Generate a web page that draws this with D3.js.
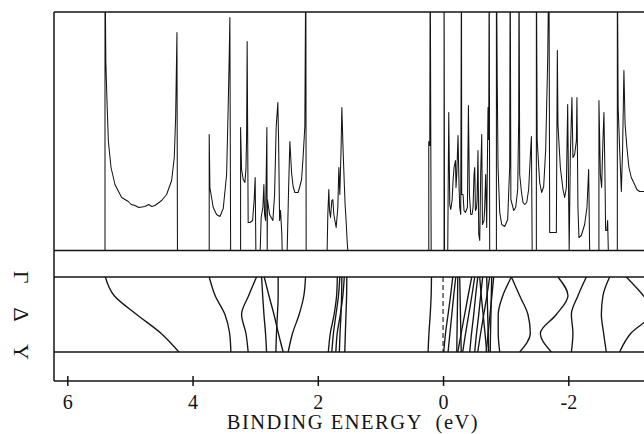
<!DOCTYPE html>
<html>
<head>
<meta charset="utf-8">
<script src="https://cdn.jsdelivr.net/npm/d3@7"></script>
<style>
  html, body { margin: 0; padding: 0; background: #fff; }
  svg { display: block; font-family: "Liberation Serif", "Times New Roman", serif; }
</style>
</head>
<body>
<svg id="chart" width="644" height="434"></svg>
<script>
// ---- Energy axis ----
const energyTicks = [6, 4, 2, 0, -2];
const tickLabels = ["6", "4", "2", "0", "-2"];
const axisTitle = "BINDING ENERGY  (eV)";
const fermiLevel = 0;

// ---- k path (fraction of the way from Γ to Y) ----
const kPoints = [0, 0.25, 0.5, 0.75, 1];
const kLabels = ["Γ", "Δ", "Y"];
const kLabelAt = [0, 0.5, 1];

// ---- Density of states: [binding energy (eV), DOS (arb. units)] ----
const dosDeep = [
  [6.3, 0], [5.398, 0], [5.398, 30], [5.385, 19.0], [5.371, 15.9], [5.345, 11.0], [5.302, 8.3],
  [5.239, 6.6], [5.132, 5.3], [5.026, 4.9], [4.98, 4.6], [4.919, 4.5], [4.86, 4.3], [4.76, 4.4],
  [4.70, 4.6], [4.65, 4.4], [4.6, 4.5], [4.493, 5.0], [4.414, 5.6], [4.334, 7.0], [4.292, 9.3],
  [4.27, 13.3], [4.249, 21.8], [4.241, 0]
];
const dosMid = [
  [3.734, 0], [3.734, 11.6], [3.723, 6.3], [3.67, 4.3], [3.616, 3.6], [3.563, 3.4], [3.51, 4.2],
  [3.456, 7.6], [3.431, 14.3], [3.415, 19.3], [3.404, 23.3], [3.392, 0],
  [3.233, 0], [3.233, 12.3], [3.217, 8.1], [3.191, 7.1], [3.164, 6.8], [3.148, 8.1], [3.137, 11.1],
  [3.128, 20.9], [3.112, 2.8], [3.084, 2.8], [3.041, 3.0], [3.016, 5.1], [3.0, 7.3], [2.989, 0],
  [2.92, 0], [2.904, 3.3], [2.877, 4.3], [2.861, 6.6], [2.85, 3.6], [2.834, 3.0], [2.813, 12.3],
  [2.808, 0], [2.804, 5.1], [2.77, 3.6], [2.717, 3.0], [2.69, 5.6], [2.665, 12.3], [2.638, 14.8],
  [2.626, 11.0], [2.61, 3.0], [2.595, 4.0], [2.574, 1.6], [2.569, 0],
  [2.489, 0], [2.467, 6.0], [2.446, 10.9], [2.419, 7.8], [2.394, 6.4], [2.366, 5.8], [2.314, 5.8],
  [2.287, 6.4], [2.259, 7.1], [2.234, 9.4], [2.207, 12.4], [2.191, 30], [2.186, 0]
];
const dosSemicore = [
  [1.851, 0], [1.84, 3.6], [1.824, 6.1], [1.813, 4.0], [1.797, 3.3], [1.776, 5.0], [1.76, 5.1],
  [1.744, 3.6], [1.707, 2.3], [1.68, 4.3], [1.664, 8.3], [1.648, 5.6], [1.628, 10.3], [1.616, 14.3],
  [1.596, 10.0], [1.573, 6.0], [1.564, 4.6], [1.548, 3.0], [1.532, 1.0], [1.521, 0]
];
const dosFermi = [
  [0.228, 0], [0.228, 10.9], [0.212, 10.5], [0.205, 30], [0.19, 0],
  [-0.016, 0], [-0.016, 30], [-0.024, 0], [-0.075, 0], [-0.08, 4.5], [-0.091, 13.8], [-0.107, 4.6],
  [-0.123, 4.1], [-0.144, 5.0], [-0.16, 7.0], [-0.176, 8.3], [-0.198, 9.0], [-0.207, 6.3],
  [-0.219, 7.6], [-0.239, 11.5], [-0.255, 6.6], [-0.266, 4.3], [-0.282, 3.6], [-0.294, 30],
  [-0.298, 5.6], [-0.319, 5.6], [-0.335, 4.0], [-0.357, 3.8], [-0.389, 4.3], [-0.405, 14.5],
  [-0.421, 5.6], [-0.442, 3.6], [-0.463, 3.6], [-0.479, 4.3], [-0.495, 7.6], [-0.506, 8.3],
  [-0.517, 4.0], [-0.533, 4.2], [-0.543, 5.0], [-0.558, 10.0], [-0.57, 1.6], [-0.586, 1.0],
  [-0.602, 8.0], [-0.618, 11.6], [-0.629, 2.6], [-0.654, 3.0], [-0.665, 4.3], [-0.681, 7.6],
  [-0.697, 2.3], [-0.718, 14.3], [-0.729, 11.1], [-0.737, 30], [-0.745, 0]
];
const dosValence = [
  [-0.852, 0], [-0.852, 30], [-0.865, 17.1], [-0.878, 8.4], [-0.905, 3.8], [-0.937, 2.6],
  [-0.985, 2.4], [-1.032, 3.1], [-1.064, 8.4], [-1.072, 30], [-1.083, 5.1], [-1.104, 4.6],
  [-1.128, 4.0], [-1.16, 4.3], [-1.192, 6.1], [-1.208, 13.1], [-1.213, 30], [-1.224, 7.6],
  [-1.251, 5.9], [-1.277, 4.8], [-1.304, 4.6], [-1.336, 4.8], [-1.367, 6.1], [-1.391, 9.1],
  [-1.411, 11.4], [-1.423, 0], [-1.49, 0], [-1.49, 30], [-1.503, 11.1], [-1.516, 9.6],
  [-1.543, 6.8], [-1.575, 5.8], [-1.607, 6.4], [-1.639, 10.1], [-1.671, 19.1], [-1.691, 30],
  [-1.703, 1.8], [-1.809, 1.8], [-1.825, 20.0], [-1.835, 12.6], [-1.873, 8.3], [-1.915, 6.1],
  [-1.942, 5.3], [-1.969, 6.3], [-1.99, 14.6], [-2.014, 0], [-2.033, 9.6], [-2.058, 15.3],
  [-2.074, 9.3], [-2.101, 9.6], [-2.129, 11.0], [-2.138, 15.3], [-2.154, 4.3], [-2.17, 1.3],
  [-2.208, 1.5], [-2.261, 2.6], [-2.298, 4.3], [-2.325, 8.1], [-2.341, 0], [-2.489, 0],
  [-2.489, 15.0], [-2.512, 7.6], [-2.532, 6.3], [-2.553, 11.0], [-2.569, 13.8], [-2.585, 7.6],
  [-2.596, 2.0], [-2.617, 2.0], [-2.628, 3.0], [-2.639, 0], [-2.783, 0], [-2.783, 30],
  [-2.796, 14.3], [-2.82, 10.1], [-2.847, 5.9], [-2.867, 10.1], [-2.888, 18.0], [-2.907, 12.6],
  [-2.936, 10.3], [-2.968, 8.3], [-3.006, 7.3], [-3.059, 6.6], [-3.096, 6.1], [-3.139, 5.9],
  [-3.21, 5.9], [-3.3, 5.9]
];

// ---- Bands along Γ–Δ–Y: binding energy (eV) at each k point ----
const bandsDeep = [
  [5.393, 5.250, 4.892, 4.505, 4.218],
  [3.734, 3.638, 3.483, 3.408, 3.388],
  [2.978, 3.105, 3.217, 3.148, 3.112],
  [2.898, 2.880, 2.860, 2.835, 2.818],
  [2.856, 2.780, 2.700, 2.630, 2.553],
  [2.633, 2.633, 2.645, 2.660, 2.670],
  [2.196, 2.223, 2.298, 2.403, 2.473]
];
const bandsSemicore = [
  [1.688, 1.700, 1.740, 1.800, 1.832],
  [1.648, 1.670, 1.710, 1.750, 1.776],
  [1.616, 1.620, 1.630, 1.645, 1.656],
  [1.577, 1.600, 1.640, 1.690, 1.712],
  [1.537, 1.540, 1.550, 1.560, 1.569]
];
const bandsFermi = [
  [0.185, 0.190, 0.205, 0.225, 0.239],
  [-0.155, -0.120, -0.080, -0.040, -0.011],
  [-0.203, -0.170, -0.140, -0.110, -0.080],
  [-0.235, -0.232, -0.228, -0.223, -0.219],
  [-0.266, -0.272, -0.278, -0.284, -0.290],
  [-0.458, -0.400, -0.345, -0.290, -0.235],
  [-0.506, -0.460, -0.410, -0.360, -0.314],
  [-0.554, -0.520, -0.490, -0.455, -0.426],
  [-0.585, -0.610, -0.640, -0.670, -0.697],
  [-0.633, -0.600, -0.570, -0.535, -0.506],
  [-0.697, -0.705, -0.713, -0.720, -0.729],
  [-0.745, -0.700, -0.650, -0.600, -0.554],
  [-0.777, -0.770, -0.765, -0.758, -0.753],
  [-0.809, -0.780, -0.750, -0.720, -0.689]
];
const bandsValence = [
  [-1.091, -0.953, -0.881, -0.881, -0.905],
  [-1.091, -1.224, -1.356, -1.393, -1.224],
  [-1.835, -1.995, -1.809, -1.554, -1.730],
  [-2.288, -2.154, -2.049, -2.074, -2.049],
  [-2.660, -2.553, -2.528, -2.564, -2.607],
  [-2.926, -3.200, -3.400, -3.450, -3.400],
  [-3.500, -3.450, -3.350, -3.000, -2.820]
];

// ---- Layout ----
const W = 644, H = 434;
const left = 54, right = 644;
const dosTop = 12, dosBottom = 250.5;
const bandTop = 277, bandBottom = 352;
const axisY = 381;
const ink = "#141414";

const x = d3.scaleLinear().domain([6, -2]).range([67.3, 568.3]);
const yDos = d3.scaleLinear().domain([0, 23.85]).range([dosBottom, dosTop]);
const yK = d3.scaleLinear().domain([0, 1]).range([bandTop, bandBottom]);

const svg = d3.select("#chart");
const defs = svg.append("defs");
defs.append("clipPath").attr("id", "clip-dos")
  .append("rect").attr("x", left).attr("y", dosTop).attr("width", right - left).attr("height", dosBottom - dosTop);
defs.append("clipPath").attr("id", "clip-bands")
  .append("rect").attr("x", left).attr("y", bandTop).attr("width", right - left).attr("height", bandBottom - bandTop);

// density of states
const dos = [].concat(dosDeep, dosMid, dosSemicore, dosFermi, dosValence);
const dosLine = d3.line().x(d => x(d[0])).y(d => yDos(d[1]));
svg.append("path")
  .attr("clip-path", "url(#clip-dos)")
  .attr("d", dosLine(dos))
  .attr("fill", "none")
  .attr("stroke", ink)
  .attr("stroke-width", 1.05)
  .attr("stroke-linejoin", "round");

// band dispersions
const bandLine = d3.line()
  .x(d => x(d[0]))
  .y(d => yK(d[1]))
  .curve(d3.curveMonotoneY);
const bands = [].concat(bandsDeep, bandsSemicore, bandsFermi, bandsValence);
svg.append("g").attr("clip-path", "url(#clip-bands)")
  .selectAll("path")
  .data(bands)
  .join("path")
  .attr("d", b => bandLine(b.map((e, i) => [e, kPoints[i]])))
  .attr("fill", "none")
  .attr("stroke", ink)
  .attr("stroke-width", 1.35);

// Fermi level
svg.append("line")
  .attr("x1", x(fermiLevel)).attr("x2", x(fermiLevel))
  .attr("y1", bandTop).attr("y2", bandBottom)
  .attr("stroke", ink).attr("stroke-width", 1.1)
  .attr("stroke-dasharray", "5,3");

// frame
const frame = svg.append("g").attr("stroke", ink).attr("stroke-width", 1.5).attr("fill", "none");
[dosTop, dosBottom, bandTop, bandBottom, axisY].forEach(yv => {
  frame.append("line").attr("x1", left).attr("x2", right).attr("y1", yv).attr("y2", yv);
});
frame.append("line").attr("x1", left).attr("x2", left).attr("y1", dosTop).attr("y2", axisY);

// energy axis
const axis = d3.axisBottom(x)
  .tickValues(energyTicks)
  .tickFormat((d, i) => tickLabels[i])
  .tickSizeOuter(0);
const ax = svg.append("g").attr("transform", `translate(0,${axisY})`).call(axis);
ax.select(".domain").remove();
ax.selectAll(".tick line")
  .attr("y1", -5).attr("y2", 5)
  .attr("stroke", ink).attr("stroke-width", 1.5);
ax.selectAll(".tick text")
  .attr("y", 27.5).attr("dy", 0)
  .attr("fill", ink)
  .style("font-family", "'Liberation Serif', 'Times New Roman', serif")
  .style("font-size", "20px");

// axis title
svg.append("text")
  .attr("x", 226.7).attr("y", 429)
  .attr("textLength", 251).attr("lengthAdjust", "spacing")
  .style("white-space", "pre")
  .style("font-size", "20.5px")
  .attr("fill", ink)
  .text(axisTitle);

// k-path labels, written top to bottom
svg.append("g").selectAll("text")
  .data(kLabels)
  .join("text")
  .attr("transform", (d, i) => `translate(13.5,${yK(kLabelAt[i])}) rotate(90)`)
  .attr("text-anchor", "middle")
  .style("font-size", "22px")
  .attr("fill", ink)
  .text(d => d);
</script>
</body>
</html>
